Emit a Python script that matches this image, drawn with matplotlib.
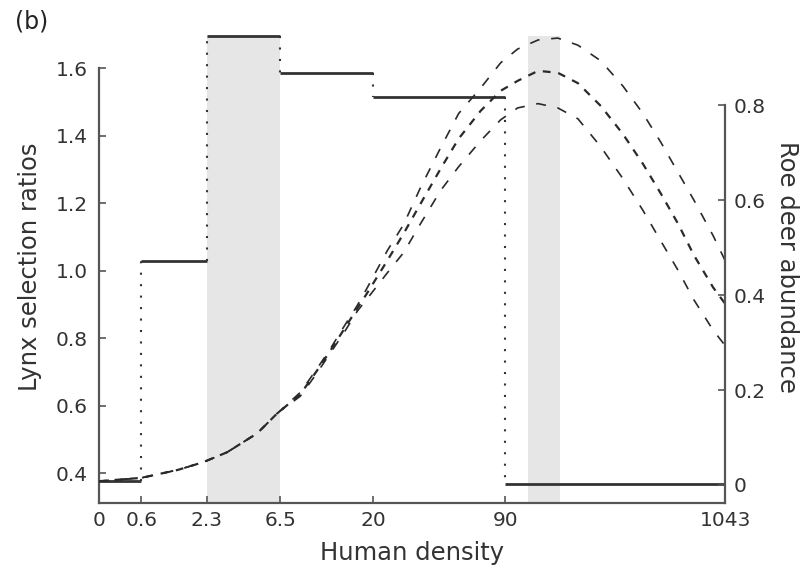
import numpy as np
import matplotlib
matplotlib.use("Agg")
import matplotlib.pyplot as plt

# ---- data ----
tick_vals = [0, 0.6, 2.3, 6.5, 20, 90, 1043]
tick_labels = ["0", "0.6", "2.3", "6.5", "20", "90", "1043"]

# lynx selection ratios (step function over human-density classes)
step_edges = [0, 0.6, 2.3, 6.5, 20, 90, 1043]
step_ratios = [0.378, 1.028, 1.696, 1.586, 1.515, 0.369]

# shaded intervals (human density)
shade_low = [2.3, 116]
shade_high = [6.5, 166]

# roe deer abundance curves (right axis)
density = [0, 0.6, 1.41, 2.18, 3.15, 4.8, 6.24, 8.35, 10.3, 12.1, 14.1, 16.6,
           18.7, 23.6, 28.4, 34.5, 43.4, 53.2, 68.3, 85.5, 103.5, 130, 162,
           203, 262, 335, 419, 512, 619, 740, 914, 1043]
roe_mid = [0.008, 0.015, 0.032, 0.048, 0.069, 0.109, 0.151, 0.191, 0.242,
           0.284, 0.326, 0.372, 0.405, 0.473, 0.529, 0.592, 0.666, 0.729,
           0.788, 0.830, 0.851, 0.872, 0.868, 0.846, 0.798, 0.739, 0.676,
           0.613, 0.550, 0.483, 0.416, 0.382]
roe_upper = [0.008, 0.015, 0.032, 0.048, 0.069, 0.109, 0.151, 0.195, 0.246,
             0.288, 0.332, 0.378, 0.416, 0.494, 0.548, 0.626, 0.710, 0.782,
             0.836, 0.889, 0.918, 0.937, 0.941, 0.926, 0.893, 0.840, 0.782,
             0.721, 0.658, 0.599, 0.525, 0.473]
roe_lower = [0.008, 0.015, 0.032, 0.048, 0.069, 0.109, 0.151, 0.187, 0.237,
             0.279, 0.319, 0.366, 0.393, 0.447, 0.489, 0.550, 0.620, 0.670,
             0.725, 0.769, 0.794, 0.803, 0.794, 0.771, 0.712, 0.645, 0.578,
             0.513, 0.452, 0.389, 0.326, 0.294]

left_ticks = [0.4, 0.6, 0.8, 1.0, 1.2, 1.4, 1.6]
right_ticks = [0, 0.2, 0.4, 0.6, 0.8]
right_tick_labels = ["0", "0.2", "0.4", "0.6", "0.8"]

# ---- figure ----
plt.rcParams['font.family'] = ['DejaVu Sans']
fig = plt.figure(figsize=(8.08, 5.68), dpi=100)
ax = fig.add_axes([99/808, 65/568, 626/808, 473/568])

fwd = lambda x: np.log10(np.asarray(x, dtype=float) + 1)
inv = lambda u: 10 ** np.asarray(u, dtype=float) - 1
ax.set_xscale('function', functions=(fwd, inv))
ax.set_xlim(0, 1043)
y0, y1 = 0.3115, 1.714
ax.set_ylim(y0, y1)

spine_col = '#555555'
text_col = '#333333'
line_col = '#2a2a2a'

# shading
for lo, hi in zip(shade_low, shade_high):
    ax.fill_between([lo, hi], [y0, y0], [1.697, 1.697], color='#e6e6e6',
                    lw=0, zorder=0)

# step: horizontal solid, vertical dotted
for i, r in enumerate(step_ratios):
    ax.plot([step_edges[i], step_edges[i + 1]], [r, r], color='#333333',
            lw=2.0, solid_capstyle='butt', zorder=3)
for i in range(1, len(step_ratios)):
    ax.plot([step_edges[i], step_edges[i]], [step_ratios[i - 1], step_ratios[i]],
            color='#333333', lw=1.5, linestyle=(0, (1, 4.5)), zorder=3)

ax.set_xticks(tick_vals)
ax.set_xticklabels(tick_labels)
ax.set_yticks(left_ticks)
ax.set_yticklabels([f"{v:.1f}" for v in left_ticks])
ax.minorticks_off()

for s in ['top', 'right']:
    ax.spines[s].set_visible(False)
ax.spines['left'].set_bounds(y0, 1.6)
for s in ['left', 'bottom']:
    ax.spines[s].set_color(spine_col)
    ax.spines[s].set_linewidth(1.6)
ax.tick_params(axis='both', direction='in', length=5, width=1.2,
               color=spine_col, labelcolor=text_col, labelsize=14.5)
ax.tick_params(axis='y', pad=8)
ax.tick_params(axis='x', pad=6)
ax.set_xlabel('Human density', fontsize=17.5, color=text_col, labelpad=8)
ax.set_ylabel('Lynx selection ratios', fontsize=17.5, color=text_col, labelpad=10)

# right axis
ax2 = ax.twinx()
ax2.set_ylim(-0.0379, 0.958)
ax2.plot(density, roe_upper, color=line_col, lw=1.2, linestyle=(0, (6, 7)), zorder=2)
ax2.plot(density, roe_lower, color=line_col, lw=1.2, linestyle=(0, (6, 7)), zorder=2)
ax2.plot(density, roe_mid, color=line_col, lw=1.6, linestyle=(0, (3.5, 3.5)), zorder=2)
ax2.set_yticks(right_ticks)
ax2.set_yticklabels(right_tick_labels)
for s in ['top', 'left', 'bottom']:
    ax2.spines[s].set_visible(False)
ax2.spines['right'].set_bounds(-0.0379, 0.8)
ax2.spines['right'].set_color(spine_col)
ax2.spines['right'].set_linewidth(1.6)
ax2.tick_params(axis='y', direction='in', length=5, width=1.2, color=spine_col,
                labelcolor=text_col, labelsize=14.5, pad=6)
ax2.set_ylabel('Roe deer abundance', fontsize=17.5, color=text_col,
               rotation=270, labelpad=24)

fig.text(0.018, 0.962, '(b)', fontsize=17, color='#222222', va='center', ha='left')

fig.savefig('out.png', dpi=100)
